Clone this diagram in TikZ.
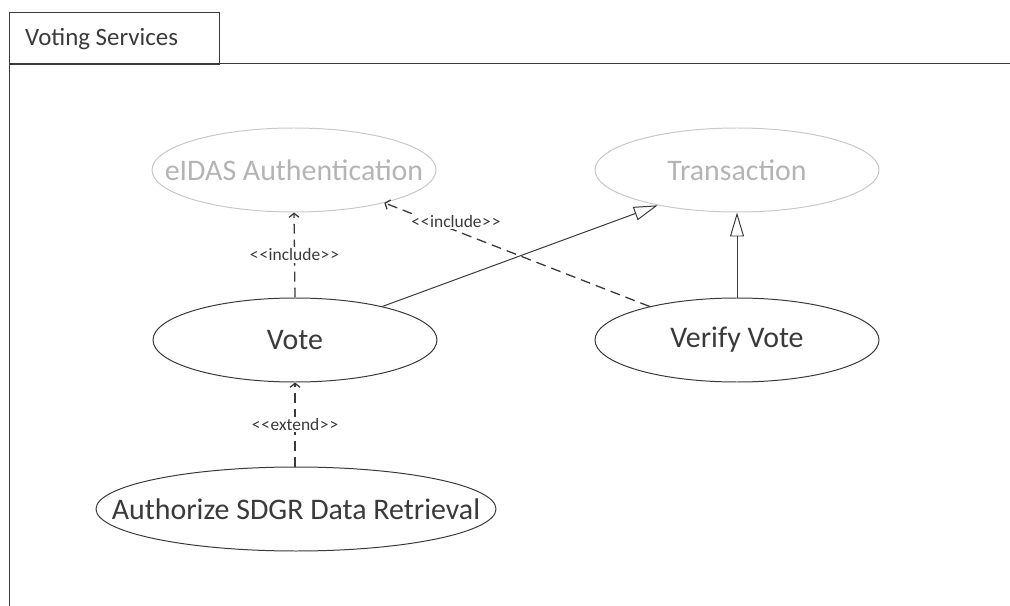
\documentclass[tikz,border=0pt]{standalone}
\usepackage{fontspec}
\setmainfont{Carlito}
\usetikzlibrary{shapes.geometric,arrows.meta}
\definecolor{ink}{HTML}{3A3A3A}
\definecolor{faint}{HTML}{C8C8C8}
\definecolor{fainttext}{HTML}{B4B4B4}
\newcommand{\stereo}[1]{\textless\kern1pt\textless\kern0.5pt #1\kern0.5pt\textgreater\kern1pt\textgreater}
\newcommand{\uctext}[1]{\makebox[0pt]{#1}}
\tikzset{
  uc/.style={ellipse, draw=ink, line width=1pt, minimum width=284bp, minimum height=84bp, inner sep=0pt, font=\fontsize{30}{34}\selectfont, text=ink},
  ucfaint/.style={uc, draw=faint, text=fainttext},
  dep/.style={draw=ink, line width=1.3pt, dash pattern=on 10pt off 6pt, -{Straight Barb[length=4pt,width=10pt]}},
  gen/.style={draw=ink, line width=1pt, -{Triangle[open,length=24bp,width=14bp]}},
  lbl/.style={fill=white, inner sep=1.5pt, font=\fontsize{17.5}{19}\selectfont, text=ink},
}
\begin{document}
\begin{tikzpicture}[x=1bp,y=-1bp]
\useasboundingbox (0,0) rectangle (1010,606);
% frame
\node[draw=ink, line width=1pt, minimum width=210bp, minimum height=52bp, anchor=north west, inner sep=0pt] (tab) at (9,12) {};
\node[anchor=west, font=\fontsize{25}{28}\selectfont, text=ink, inner sep=0pt] (title) at (25,39) {Voting Services};
\coordinate (fl) at (9,64);
\coordinate (fr) at (1010,64);
\coordinate (fb) at (9,606);
\draw[ink, line width=1pt] (fr) -- (fl) -- (fb);
% use cases
\node[ucfaint] (eidas) at (294,170) {\uctext{eIDAS Authentication}};
\node[ucfaint] (trans) at (737,170) {\uctext{Transaction}};
\node[uc] (vote) at (295,340) {\uctext{Vote}};
\node[uc] (verify) at (737,340) {\uctext{Verify Vote}};
\node[uc, minimum width=400bp] (auth) at (296,509) {\uctext{Authorize SDGR Data Retrieval}};
% connectors
\draw[dep] (vote.north) -- node[lbl] {\stereo{include}} (eidas.south);
\draw[dep] (auth.north -| vote.south) -- node[lbl] {\stereo{extend}} (vote.south);
\draw[gen] (vote.21) -- (trans.204);
\draw[gen] (verify.north) -- (trans.south);
\draw[dep] (verify.159) -- node[lbl, pos=0.73, yshift=9bp] {\stereo{include}} (eidas.340);
\end{tikzpicture}
\end{document}
